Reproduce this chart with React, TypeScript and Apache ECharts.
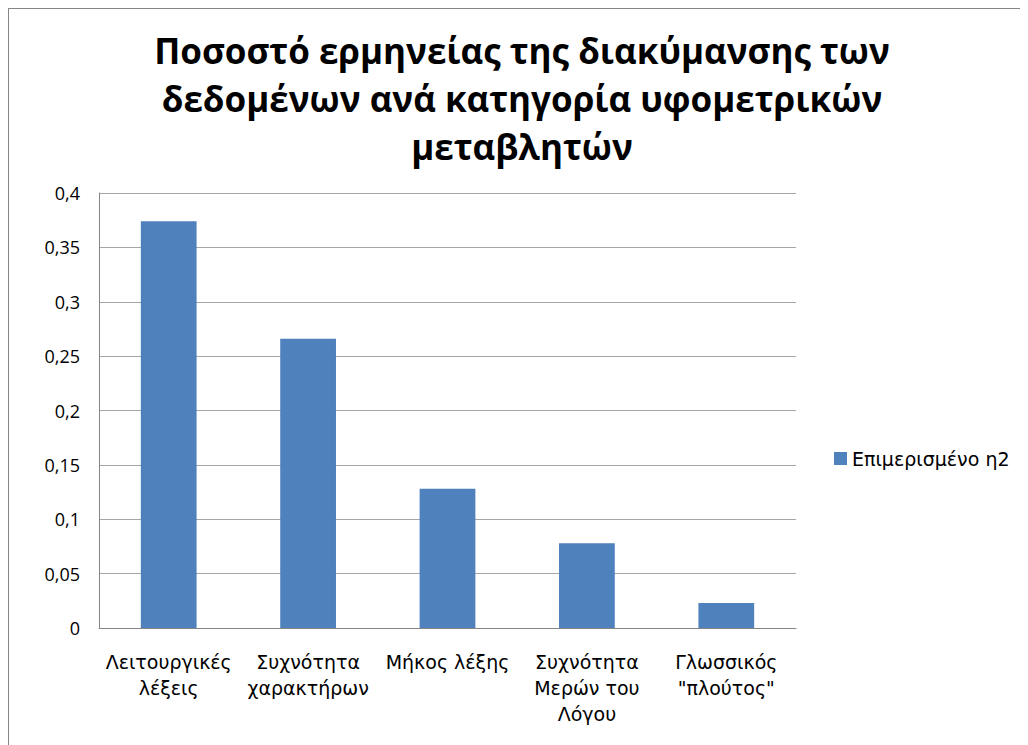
import React, { useEffect, useRef } from "react";
import * as echarts from "echarts";

const categories = [
  "Λειτουργικές\nλέξεις",
  "Συχνότητα\nχαρακτήρων",
  "Μήκος λέξης",
  "Συχνότητα\nΜερών του\nΛόγου",
  "Γλωσσικός\n\"πλούτος\"",
];
const seriesName = "Επιμερισμένο η2";
const values = [0.374, 0.266, 0.128, 0.078, 0.023];
const titleText =
  "Ποσοστό ερμηνείας της διακύμανσης των\nδεδομένων ανά κατηγορία υφομετρικών\nμεταβλητών";

const FONT = "'Open Sans', 'Noto Sans', sans-serif";
const WIDE = "'DejaVu Sans', 'Open Sans', sans-serif";

export default function App() {
  const ref = useRef<HTMLDivElement>(null);
  useEffect(() => {
    if (!ref.current) return;
    const chart = echarts.init(ref.current, undefined, { renderer: "svg" });
    chart.setOption({
      animation: false,
      backgroundColor: "#ffffff",
      title: {
        text: titleText,
        left: 514,
        textAlign: "center",
        top: 18,
        padding: 0,
        textStyle: {
          fontFamily: FONT,
          fontSize: 35,
          fontWeight: "bold",
          lineHeight: 48,
          color: "#000000",
        },
      },
      graphic: [
        {
          type: "rect",
          shape: { x: 0, y: 0, width: 1200, height: 1200 },
          style: { fill: "none", stroke: "#868686", lineWidth: 2 },
          silent: true,
        },
      ],
      legend: {
        orient: "vertical",
        left: 826,
        top: 441,
        padding: 0,
        itemWidth: 13,
        itemHeight: 13,
        itemGap: 5,
        icon: "rect",
        textStyle: { fontFamily: WIDE, fontSize: 19, color: "#000000" },
        data: [seriesName],
      },
      grid: { left: 91, top: 185, right: 232, bottom: 117 },
      xAxis: {
        type: "category",
        data: categories,
        axisLine: { show: true, lineStyle: { color: "#868686", width: 1 } },
        axisTick: { show: false },
        axisLabel: {
          interval: 0,
          margin: 21,
          fontFamily: WIDE,
          fontSize: 19,
          lineHeight: 26,
          color: "#000000",
        },
      },
      yAxis: {
        type: "value",
        min: 0,
        max: 0.4,
        interval: 0.05,
        axisLine: { show: true, lineStyle: { color: "#868686", width: 1 } },
        axisTick: { show: false },
        splitLine: { show: true, lineStyle: { color: "#a6a6a6", width: 1 } },
        axisLabel: {
          margin: 19,
          fontFamily: FONT,
          fontSize: 18,
          color: "#000000",
          formatter: (v: number) => String(Math.round(v * 100) / 100).replace(".", ","),
        },
      },
      series: [
        {
          name: seriesName,
          type: "bar",
          data: values,
          barWidth: "40%",
          itemStyle: { color: "#4f81bd" },
        },
      ],
    });
    return () => chart.dispose();
  }, []);
  return <div ref={ref} style={{ width: 1020, height: 737 }} />;
}
